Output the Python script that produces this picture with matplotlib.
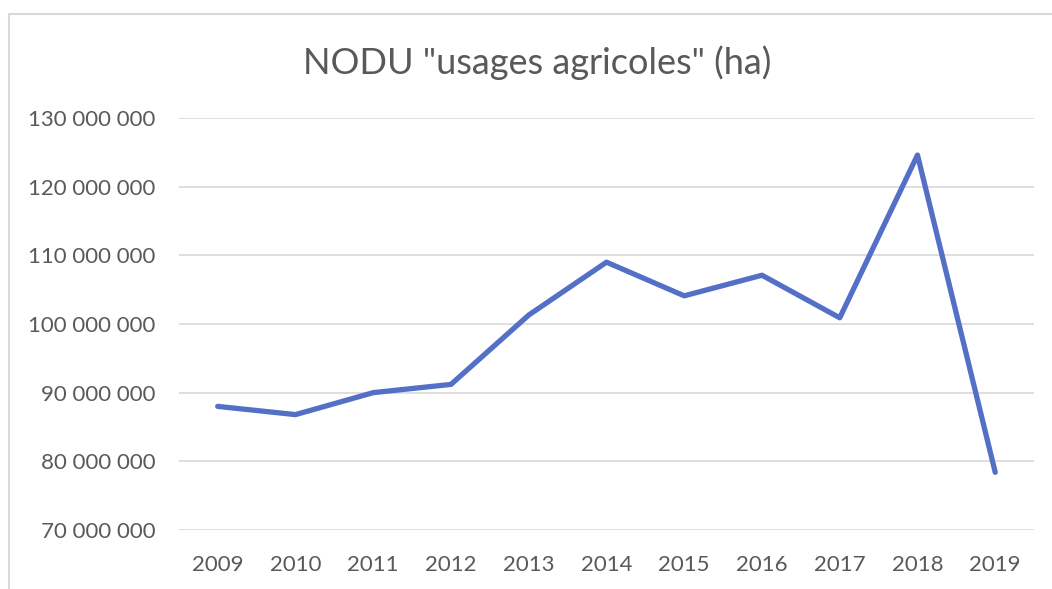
import matplotlib.pyplot as plt
from matplotlib.patches import Rectangle
from matplotlib.ticker import FuncFormatter

years = ["2009", "2010", "2011", "2012", "2013", "2014", "2015", "2016", "2017", "2018", "2019"]
nodu = [88.0e6, 86.8e6, 90.0e6, 91.2e6, 101.3e6, 109.0e6, 104.1e6, 107.1e6, 100.9e6, 124.6e6, 78.4e6]

plt.rcParams["font.family"] = ["Lato", "DejaVu Sans"]
txt = "#595959"

fig = plt.figure(figsize=(10.52, 5.89), dpi=100)
ax = fig.add_axes([0.170, 0.1002, 0.813, 0.6995])

x = list(range(len(years)))
ax.plot(x, nodu, color="#5470C6", lw=3.8, solid_capstyle="round", solid_joinstyle="round", zorder=3)

ax.set_xlim(-0.5, len(years) - 0.5)
ax.set_ylim(70e6, 130e6)
ax.set_yticks([70e6 + 10e6 * i for i in range(7)])
ax.yaxis.set_major_formatter(FuncFormatter(lambda v, p: f"{int(v):,}".replace(",", " ")))
ax.set_xticks(x)
ax.set_xticklabels(years)
ax.grid(axis="y", color="#d9d9d9", lw=1.2)
ax.set_axisbelow(True)
for s in ax.spines.values():
    s.set_visible(False)
ax.tick_params(length=0, labelsize=16, colors=txt)
ax.tick_params(axis="y", pad=17)
ax.tick_params(axis="x", pad=18)

fig.text(0.511, 0.893, 'NODU "usages agricoles" (ha)', ha="center", va="center", fontsize=26, color=txt)

fig.patches.append(Rectangle((9 / 1052, -0.1), 1.2, 1.1 - 14 / 589, transform=fig.transFigure,
                             fill=False, edgecolor="#d9d9d9", lw=1.5))

fig.savefig("out.png", dpi=100)
